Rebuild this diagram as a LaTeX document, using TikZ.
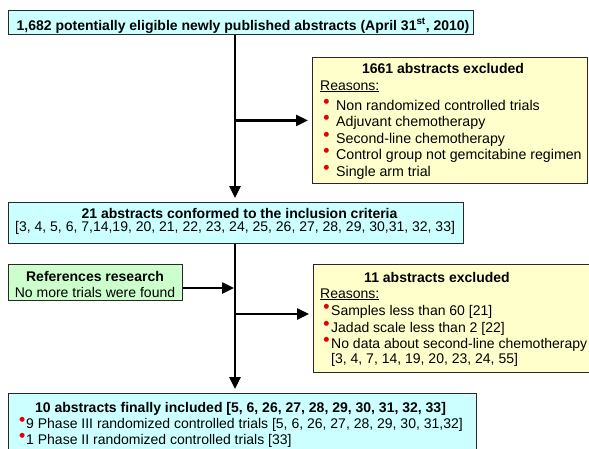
\documentclass[tikz,border=0pt]{standalone}
\usepackage{fontspec}
\setmainfont{Liberation Sans}
\newfontfamily\dejavu{DejaVu Sans}
\usetikzlibrary{arrows.meta}
\definecolor{cyanbox}{RGB}{204,255,255}
\definecolor{yelbox}{RGB}{255,255,204}
\definecolor{grnbox}{RGB}{204,255,204}
\definecolor{bulred}{RGB}{230,0,0}
\definecolor{edge}{RGB}{40,40,40}
\newcommand\rbul[1]{\makebox[#1][l]{\textcolor{bulred}{\raisebox{6.3pt}{\dejavu\fontsize{6.5}{6.5}\selectfont ●}}}}
\begin{document}
\begin{tikzpicture}[x=1pt,y=-1pt,
  box/.style={draw=edge, line width=0.8pt, anchor=north west, inner sep=0pt},
  tl/.style={inner sep=0pt, anchor=base west, font=\fontsize{14}{16}\selectfont},
  tb/.style={inner sep=0pt, anchor=base, font=\fontsize{14}{16}\selectfont\bfseries},
  tc/.style={inner sep=0pt, anchor=base, font=\fontsize{14}{16}\selectfont},
  tlb/.style={inner sep=0pt, anchor=base west, font=\fontsize{14.2}{17}\selectfont},
  arr/.style={line width=2.5pt, -{Triangle[length=12pt,width=11pt]}, shorten >=4pt}]
\useasboundingbox (0,0) rectangle (589,448);
\clip (0,0) rectangle (589,448);

% boxes
\node[box,fill=cyanbox,minimum width=465pt,minimum height=24pt] (A) at (8,10) {};
\node[box,fill=yelbox,minimum width=275pt,minimum height=126pt] (Y1) at (312,57) {};
\node[box,fill=cyanbox,minimum width=455pt,minimum height=41pt] (C) at (8,202) {};
\node[box,fill=grnbox,minimum width=174pt,minimum height=36pt] (G) at (8,264) {};
\node[box,fill=yelbox,minimum width=290pt,minimum height=108pt] (Y2) at (313,264) {};
\node[box,fill=cyanbox,minimum width=468pt,minimum height=70pt] (F) at (8,393) {};

% texts
\node[tb] (At) at (243,30) {1,682 potentially eligible newly published abstracts (April 31\textsuperscript{st}, 2010)};

\node[tb] (Y1t) at (443,73) {1661 abstracts excluded};
\node[tl] (Y1r) at (320,90) {\underline{Reasons:}};
\node[tlb] (Y1a) at (323.3,110) {\rbul{12.7pt}Non randomized controlled trials};
\node[tlb] (Y1b) at (323.3,126) {\rbul{12.7pt}Adjuvant chemotherapy};
\node[tlb] (Y1c) at (323.3,143) {\rbul{12.7pt}Second-line chemotherapy};
\node[tlb] (Y1d) at (323.3,159) {\rbul{12.7pt}Control group not gemcitabine regimen};
\node[tlb] (Y1e) at (323.3,176) {\rbul{12.7pt}Single arm trial};

\node[tb] (Ct) at (239.5,218) {21 abstracts conformed to the inclusion criteria};
\node[tl] (Cl) at (15,231) {[3, 4, 5, 6, 7,14,19, 20, 21, 22, 23, 24, 25, 26, 27, 28, 29, 30,31, 32, 33]};

\node[tb] (Gt) at (95,281) {References research};
\node[tc] (Gl) at (95,297) {No more trials were found};

\node[tb] (Y2t) at (437,282) {11 abstracts excluded};
\node[tl] (Y2r) at (320,298) {\underline{Reasons:}};
\node[tl] (Y2a) at (323.3,315) {\rbul{7.7pt}Samples less than 60 [21]};
\node[tl] (Y2b) at (323.3,332) {\rbul{7.7pt}Jadad scale less than 2 [22]};
\node[tl] (Y2c) at (323.3,348) {\rbul{7.7pt}No data about second-line chemotherapy};
\node[tl] (Y2d) at (331,363) {[3, 4, 7, 14, 19, 20, 23, 24, 55]};

\node[tb] (Ft) at (240.5,412) {10 abstracts finally included [5, 6, 26, 27, 28, 29, 30, 31, 32, 33]};
\node[tl] (Fa) at (19.3,428) {\rbul{6.7pt}9 Phase III randomized controlled trials [5, 6, 26, 27, 28, 29, 30, 31,32]};
\node[tl] (Fb) at (19.3,444) {\rbul{6.7pt}1 Phase II randomized controlled trials [33]};

% connectors
\coordinate (spine) at (235,0);
\coordinate (gj) at (235,288);
\coordinate (y2j) at (235,314);
\draw[arr] (A.south -| spine) -- (C.north -| spine);
\draw[arr] (Y1.west -| spine) -- (Y1.west);
\draw[arr] (C.south -| spine) -- (F.north -| spine);
\draw[arr, shorten >=1pt] (G.east |- gj) -- (gj);
\draw[arr] (y2j) -- (y2j -| Y2.west);
\end{tikzpicture}
\end{document}
